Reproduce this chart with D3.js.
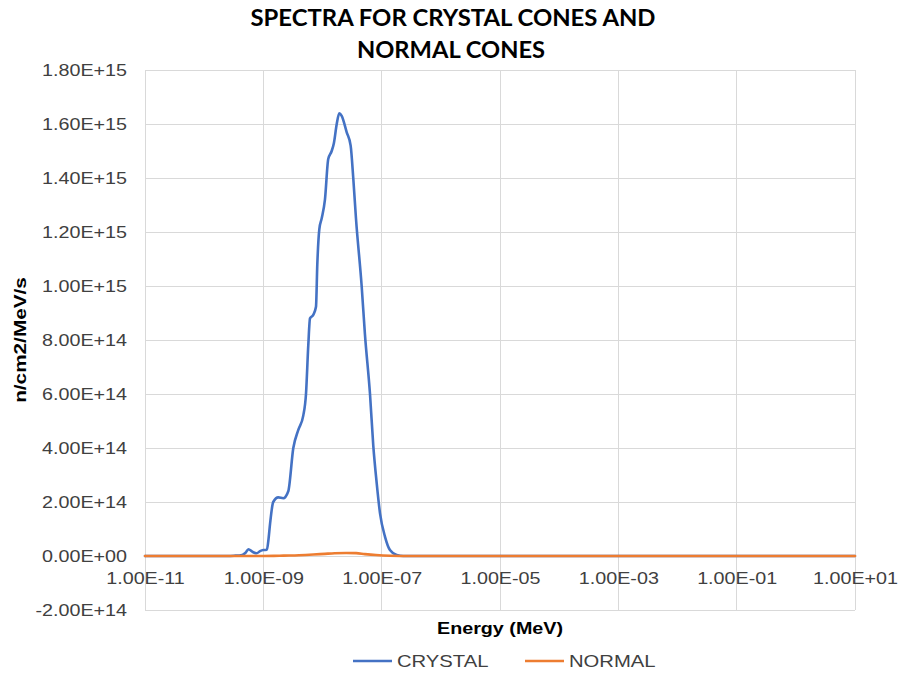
<!DOCTYPE html>
<html><head><meta charset="utf-8">
<script src="https://cdn.jsdelivr.net/npm/d3@7"></script>
<style>
body{margin:0;background:#fff;}
svg{display:block;}
</style></head>
<body>
<svg id="chart" width="902" height="675"></svg>
<script>
// ---- data ----
const titleLines = ["SPECTRA FOR CRYSTAL CONES AND", "NORMAL CONES"];
const xTicks = [1e-11, 1e-9, 1e-7, 1e-5, 1e-3, 1e-1, 1e1];
const yTicks = [-2e14, 0, 2e14, 4e14, 6e14, 8e14, 1e15, 1.2e15, 1.4e15, 1.6e15, 1.8e15];
const seriesNames = ["CRYSTAL", "NORMAL"];

const energyCrystal = [1e-11, 1e-10, 2.5e-10, 3.2e-10, 4.4e-10, 5.0e-10, 5.6e-10, 6.5e-10, 7.7e-10, 8.8e-10,
  1.0e-9, 1.15e-9, 1.22e-9, 1.30e-9, 1.47e-9, 1.79e-9, 2.17e-9, 2.64e-9, 3.21e-9, 3.90e-9, 4.73e-9, 5.26e-9,
  5.75e-9, 6.15e-9, 6.98e-9, 7.76e-9, 8.17e-9, 8.83e-9, 9.68e-9, 1.10e-8, 1.25e-8, 1.43e-8, 1.56e-8, 1.74e-8,
  1.92e-8, 2.11e-8, 2.56e-8, 2.99e-8, 3.31e-8, 3.68e-8, 4.59e-8, 5.22e-8, 6.35e-8, 7.21e-8, 8.24e-8, 9.38e-8,
  1.14e-7, 1.38e-7, 1.79e-7, 2.32e-7, 1e-6, 1e-5, 1e-4, 1e-3, 1e-2, 1e-1, 1, 10];
const fluxCrystal = [0, 0, 0, 1e12, 4e12, 1.2e13, 2.5e13, 1.6e13, 1.0e13, 1.8e13,
  2.2e13, 2.3e13, 6e13, 1.2e14, 2.0e14, 2.17e14, 2.14e14, 2.4e14, 4.0e14, 4.67e14, 5.2e14, 6.0e14,
  7.8e14, 8.8e14, 8.93e14, 9.23e14, 1.08e15, 1.21e15, 1.25e15, 1.32e15, 1.47e15, 1.50e15, 1.53e15, 1.60e15,
  1.64e15, 1.63e15, 1.57e15, 1.52e15, 1.40e15, 1.25e15, 1.0e15, 8.2e14, 6.0e14, 4.1e14, 2.7e14, 1.58e14,
  7.1e13, 2.2e13, 4e12, 0, 0, 0, 0, 0, 0, 0, 0, 0];

const energyNormal = [1e-11, 1e-10, 1e-9, 1.5e-9, 2.2e-9, 4e-9, 7e-9, 1.1e-8, 1.6e-8, 2.5e-8, 3.7e-8, 5.2e-8,
  8e-8, 1.4e-7, 3e-7, 1e-6, 1e-5, 1e-4, 1e-3, 1e-2, 1e-1, 1, 10];
const fluxNormal = [0, 0, 0, 5e11, 1.5e12, 3e12, 5.5e12, 8e12, 1.0e13, 1.1e13, 1.05e13, 7e12,
  3.5e12, 1e12, 0, 0, 0, 0, 0, 0, 0, 0, 0];

// ---- layout ----
const svg = d3.select("#chart");
const L = 145, R = 855, T = 70, B = 610;
const x = d3.scaleLog().domain([1e-11, 10]).range([L, R]);
const y = d3.scaleLinear().domain([-2e14, 1.8e15]).range([B, T]);
const colors = ["#4472C4", "#ED7D31"];
const STRETCH = 1.16;
const SANS = "'Liberation Sans', Arial, sans-serif";

function sci(v) {
  if (v === 0) return "0.00E+00";
  const s = d3.format(".2e")(v).replace("\u2212", "-");
  const [m, e] = s.split("e");
  const sign = e[0] === "+" ? "+" : "-";
  let d = e.slice(1);
  if (d.length < 2) d = "0" + d;
  return m + "E" + sign + d;
}
function stretch(sel, f) {
  sel.each(function () {
    const w = this.getComputedTextLength();
    d3.select(this).attr("textLength", w * f).attr("lengthAdjust", "spacingAndGlyphs");
  });
}

// gridlines
const grid = svg.append("g");
grid.selectAll("line.h").data(yTicks).join("line")
  .attr("x1", L).attr("x2", R).attr("y1", d => y(d)).attr("y2", d => y(d))
  .attr("stroke", "#d9d9d9").attr("stroke-width", 1).attr("shape-rendering", "crispEdges");
grid.selectAll("line.v").data(xTicks).join("line")
  .attr("y1", T).attr("y2", B).attr("x1", d => x(d)).attr("x2", d => x(d))
  .attr("stroke", "#d9d9d9").attr("stroke-width", 1).attr("shape-rendering", "crispEdges");

// axes
const yAxis = svg.append("g").attr("transform", `translate(${L},0)`)
  .call(d3.axisLeft(y).tickValues(yTicks).tickFormat(sci).tickSize(0).tickPadding(18));
yAxis.select(".domain").remove();
yAxis.selectAll("text").style("font-size", "17px").style("fill", "#404040").style("font-family", SANS);
stretch(yAxis.selectAll("text"), STRETCH);

const xAxis = svg.append("g").attr("transform", `translate(0,${y(0)})`)
  .call(d3.axisBottom(x).tickValues(xTicks).tickFormat(sci).tickSize(0).tickPadding(16));
xAxis.select(".domain").attr("stroke", "#d9d9d9");
xAxis.selectAll("text").style("font-size", "17px").style("fill", "#404040").style("font-family", SANS);
stretch(xAxis.selectAll("text"), STRETCH);

// lines
const series = [
  energyCrystal.map((e, i) => [e, fluxCrystal[i]]),
  energyNormal.map((e, i) => [e, fluxNormal[i]])
];
const line = d3.line().x(d => x(d[0])).y(d => y(d[1])).curve(d3.curveMonotoneX);
svg.append("g").selectAll("path").data(series).join("path")
  .attr("d", line).attr("fill", "none")
  .attr("stroke", (d, i) => colors[i]).attr("stroke-width", 2.6)
  .attr("stroke-linejoin", "round").attr("stroke-linecap", "round");

// title
const title = svg.append("g");
title.selectAll("text").data(titleLines).join("text")
  .attr("x", (d, i) => i === 0 ? 453 : 451).attr("y", (d, i) => i === 0 ? 26 : 58)
  .attr("text-anchor", "middle")
  .style("font-family", "Lato, 'Open Sans', sans-serif").style("font-weight", "bold")
  .style("font-size", "22px").style("fill", "#000")
  .attr("textLength", (d, i) => i === 0 ? 405 : 188).attr("lengthAdjust", "spacingAndGlyphs")
  .text(d => d);

// axis titles
const xt = svg.append("text").attr("x", 500).attr("y", 634).attr("text-anchor", "middle")
  .style("font-family", SANS).style("font-size", "17px").style("font-weight", "bold")
  .style("fill", "#000").text("Energy (MeV)");
stretch(xt, STRETCH);
const yt = svg.append("text").attr("transform", "translate(26,340) rotate(-90)")
  .attr("text-anchor", "middle").style("font-family", SANS).style("font-size", "17px")
  .style("font-weight", "bold").style("fill", "#000").text("n/cm2/MeV/s");
stretch(yt, 1.22);

// legend
const legX = [353, 525];
const leg = svg.append("g");
seriesNames.forEach((n, i) => {
  leg.append("line").attr("x1", legX[i]).attr("x2", legX[i] + 39).attr("y1", 661).attr("y2", 661)
    .attr("stroke", colors[i]).attr("stroke-width", 2.6);
  const t = leg.append("text").attr("x", legX[i] + 44).attr("y", 667)
    .style("font-family", SANS).style("font-size", "17px")
    .style("fill", "#404040").text(n);
  stretch(t, 1.19);
});
</script>
</body></html>
